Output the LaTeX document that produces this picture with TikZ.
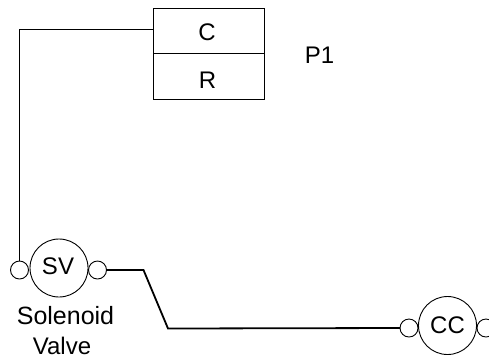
\documentclass[tikz,border=0pt]{standalone}
\usepackage{fontspec}
\setmainfont{Liberation Sans}
\begin{document}
\begin{tikzpicture}[x=1pt,y=-1pt,
  every node/.style={font=\fontsize{24}{27}\selectfont},
  cellbox/.style={draw=black,line width=0.9pt,minimum width=111pt,inner sep=0pt,outer sep=0pt,anchor=north west},
  bigport/.style={draw=black,line width=0.9pt,circle,minimum size=58pt,inner sep=0pt,outer sep=0pt},
  smallport/.style={draw=black,line width=0.9pt,circle,minimum size=18pt,inner sep=0pt,outer sep=0pt},
  thinwire/.style={draw=black,line width=0.9pt},
  thickwire/.style={draw=black,line width=1.8pt,line join=miter}]
\useasboundingbox (0,0) rectangle (489,360);
\clip (0,0) rectangle (489,360);
\node[cellbox,minimum height=45pt] (cell) at (153,8) {};
\node (ctext) at (207,32) {C};
\node[cellbox,minimum height=46pt] (rcell) at (153,53) {};
\node (rtext) at (207.5,80) {R};
\node (p1) at (319.5,55) {P1};
\node[bigport] (sv) at (59,268) {};
\node (svt) at (58,266) {SV};
\node[smallport] (svl) at (19.5,270) {};
\node[smallport] (svr) at (97.5,270) {};
\node[font=\fontsize{25}{27}\selectfont] (sol) at (65.5,316) {Solenoid};
\node (val) at (62,346) {Valve};
\node[bigport] (cc) at (447.5,325.5) {};
\node (cct) at (447.5,325) {CC};
\node[smallport] (ccl) at (409,328) {};
\node[smallport] (ccr) at (486,328) {};
\coordinate (cport) at (153,29);
\coordinate (bendA) at (143.5,270);
\coordinate (bendB) at (168,328.5);
\draw[thinwire] (cport) -| (svl.north);
\draw[thickwire] (svr.east) -- (bendA) -- (bendB) -- (ccl.west);
\end{tikzpicture}
\end{document}
